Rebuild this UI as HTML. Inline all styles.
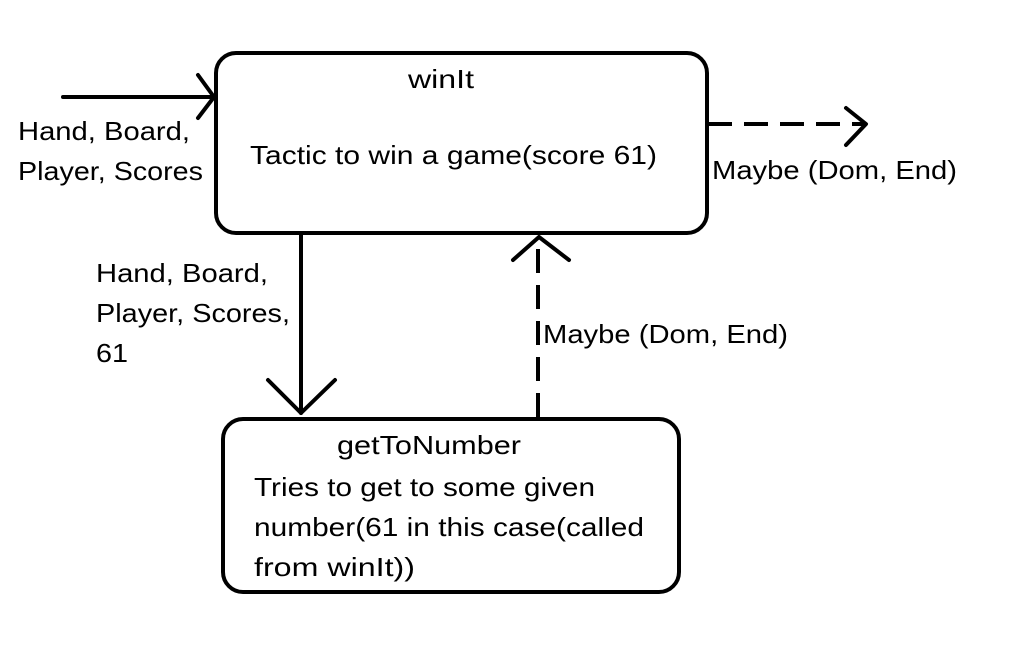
<!DOCTYPE html>
<html><head><style>body{margin:0;background:#fff}svg{display:block}</style></head><body>
<svg width="1021" height="665" viewBox="0 0 1021 665" xmlns="http://www.w3.org/2000/svg" font-family="Liberation Sans, sans-serif" font-size="26" fill="#000">
<g fill="none" stroke="#000" stroke-width="4" stroke-linecap="round" stroke-linejoin="round">
<rect x="216" y="53" width="491" height="180" rx="20"/>
<rect x="223" y="419" width="456" height="173" rx="20"/>
<line x1="63" y1="97" x2="214" y2="97"/>
<polyline points="198,75 214,97 198,118"/>
<line x1="708" y1="124" x2="866" y2="124" stroke-dasharray="24,12" stroke-linecap="butt"/>
<polyline points="846,108 866,124 846,145"/>
<line x1="301" y1="235" x2="301" y2="413"/>
<polyline points="268,380 301,413 335,380"/>
<line x1="538" y1="417" x2="538" y2="240" stroke-dasharray="24,12" stroke-linecap="butt"/>
<polyline points="513,260 539,237 569,260"/>
</g>
<text x="18" y="140" textLength="172" lengthAdjust="spacingAndGlyphs">Hand, Board,</text>
<text x="18" y="180" textLength="185" lengthAdjust="spacingAndGlyphs">Player, Scores</text>
<text x="408" y="88" textLength="66" lengthAdjust="spacingAndGlyphs">winIt</text>
<text x="250" y="164" textLength="407" lengthAdjust="spacingAndGlyphs">Tactic to win a game(score 61)</text>
<text x="712" y="179" textLength="245" lengthAdjust="spacingAndGlyphs">Maybe (Dom, End)</text>
<text x="96" y="282" textLength="172" lengthAdjust="spacingAndGlyphs">Hand, Board,</text>
<text x="96" y="322" textLength="194" lengthAdjust="spacingAndGlyphs">Player, Scores,</text>
<text x="96" y="362" textLength="32" lengthAdjust="spacingAndGlyphs">61</text>
<text x="543" y="343" textLength="245" lengthAdjust="spacingAndGlyphs">Maybe (Dom, End)</text>
<text x="337" y="454" textLength="184" lengthAdjust="spacingAndGlyphs">getToNumber</text>
<text x="254" y="496" textLength="341" lengthAdjust="spacingAndGlyphs">Tries to get to some given</text>
<text x="254" y="536" textLength="390" lengthAdjust="spacingAndGlyphs">number(61 in this case(called</text>
<text x="254" y="576" textLength="161" lengthAdjust="spacingAndGlyphs">from winIt))</text>
</svg>
</body></html>
